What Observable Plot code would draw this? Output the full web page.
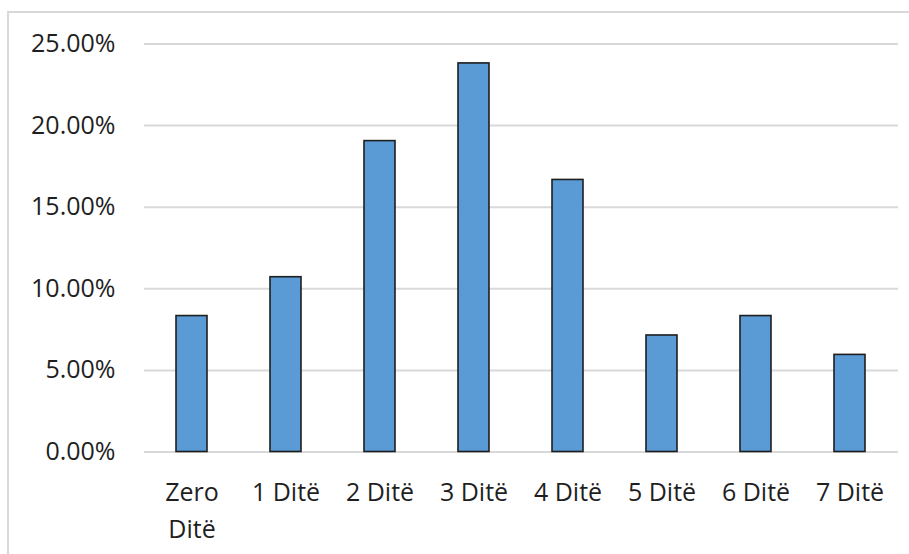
<!DOCTYPE html>
<html>
<head>
<meta charset="utf-8">
<script src="https://cdn.jsdelivr.net/npm/d3@7"></script>
<script src="https://cdn.jsdelivr.net/npm/@observablehq/plot@0.6"></script>
<style>
  html, body { margin: 0; padding: 0; background: #fff; overflow: hidden; }
  #chart { position: relative; width: 909px; height: 554px; }
  #chart .border {
    position: absolute; left: 7px; top: 11px; width: 1000px; height: 1000px;
    border: 2px solid #d9d9d9; pointer-events: none;
  }
</style>
</head>
<body>
<div id="chart"><div class="border"></div></div>
<script>
// Share of respondents by number of days
const categories = ["Zero Ditë", "1 Ditë", "2 Ditë", "3 Ditë", "4 Ditë", "5 Ditë", "6 Ditë", "7 Ditë"];
const shares = [8.33, 10.71, 19.05, 23.81, 16.67, 7.14, 8.33, 5.95];
const yTicks = [0, 5, 10, 15, 20, 25];

const data = categories.map((c, i) => ({category: c, share: shares[i]}));

const font = "'Open Sans', 'Liberation Sans', sans-serif";
const textColor = "#1f1f1f";

const chart = Plot.plot({
  width: 909,
  height: 554,
  marginLeft: 144,
  marginRight: 11,
  marginTop: 43.5,
  marginBottom: 102.5,
  style: {fontFamily: font, fontSize: "25px", color: textColor, background: "transparent"},
  x: {domain: categories, paddingInner: 0.67, paddingOuter: 0.335, label: null},
  y: {domain: [0, 25], label: null},
  marks: [
    Plot.ruleY(yTicks, {stroke: "#d9d9d9", strokeWidth: 2}),
    Plot.barY(data, {x: "category", y: "share", fill: "#5b9bd5", stroke: "#1e1e1e", strokeWidth: 1.6}),
    Plot.axisY(yTicks, {
      tickSize: 0, tickPadding: 29, label: null,
      tickFormat: d => d.toFixed(2) + "%",
      fontSize: 25, fill: textColor
    }),
    Plot.axisX({
      tickSize: 0, tickPadding: 22, label: null,
      tickFormat: d => d === "Zero Ditë" ? "Zero\nDitë" : d,
      lineHeight: 1.5, fontSize: 25, fill: textColor
    })
  ]
});

document.getElementById("chart").prepend(chart);
</script>
</body>
</html>
